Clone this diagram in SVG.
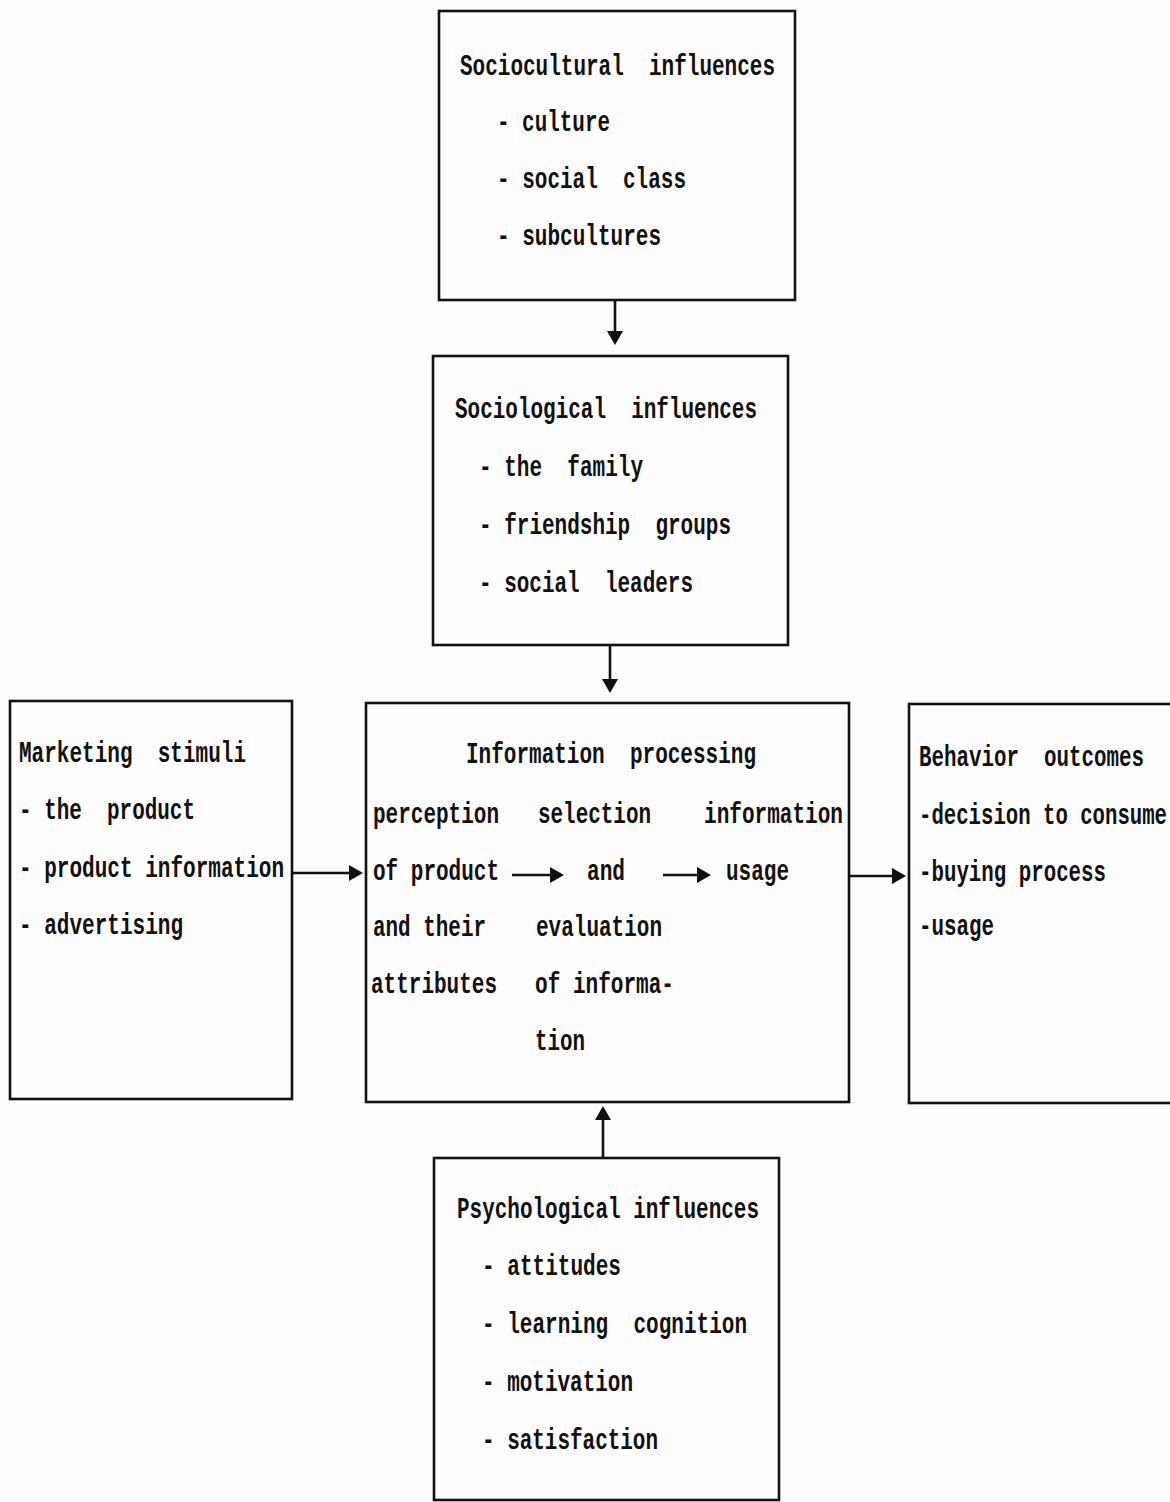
<svg xmlns="http://www.w3.org/2000/svg" width="1170" height="1502" viewBox="0 0 1170 1502">
  <style>
    .box { fill: none; stroke: #111; stroke-width: 2.6; }
    .conn { fill: none; stroke: #111; stroke-width: 2.6; marker-end: url(#head); }
    text { font-family: "Liberation Mono", "DejaVu Sans Mono", monospace; font-weight: bold; font-size: 30px; fill: #111; white-space: pre; }
  </style>
  <defs>
    <marker id="head" viewBox="0 0 14 16" refX="10" refY="8" markerWidth="14" markerHeight="16" markerUnits="userSpaceOnUse" orient="auto">
      <path d="M0,0 L14,8 L0,16 Z" fill="#111"/>
    </marker>
  </defs>
  <rect width="1170" height="1502" fill="#fdfdfd"/>

  <!-- Sociocultural influences -->
  <g id="sociocultural">
    <rect class="box" x="439" y="11" width="356" height="289"/>
    <text x="460" y="75" textLength="315" lengthAdjust="spacingAndGlyphs">Sociocultural  influences</text>
    <text x="497" y="131" textLength="113" lengthAdjust="spacingAndGlyphs">- culture</text>
    <text x="497" y="188" textLength="189" lengthAdjust="spacingAndGlyphs">- social  class</text>
    <text x="497" y="245" textLength="164" lengthAdjust="spacingAndGlyphs">- subcultures</text>
  </g>

  <!-- Sociological influences -->
  <g id="sociological">
    <rect class="box" x="433" y="356" width="355" height="289"/>
    <text x="455" y="418" textLength="302" lengthAdjust="spacingAndGlyphs">Sociological  influences</text>
    <text x="479" y="476" textLength="164" lengthAdjust="spacingAndGlyphs">- the  family</text>
    <text x="479" y="534" textLength="252" lengthAdjust="spacingAndGlyphs">- friendship  groups</text>
    <text x="479" y="592" textLength="214" lengthAdjust="spacingAndGlyphs">- social  leaders</text>
  </g>

  <!-- Marketing stimuli -->
  <g id="marketing">
    <rect class="box" x="10" y="701" width="282" height="398"/>
    <text x="19" y="762" textLength="227" lengthAdjust="spacingAndGlyphs">Marketing  stimuli</text>
    <text x="19" y="819" textLength="176" lengthAdjust="spacingAndGlyphs">- the  product</text>
    <text x="19" y="877" textLength="265" lengthAdjust="spacingAndGlyphs">- product information</text>
    <text x="19" y="934" textLength="164" lengthAdjust="spacingAndGlyphs">- advertising</text>
  </g>

  <!-- Information processing -->
  <g id="information">
    <rect class="box" x="366" y="703" width="483" height="399"/>
    <text x="466" y="763" textLength="290" lengthAdjust="spacingAndGlyphs">Information  processing</text>
    <text x="373" y="823" textLength="126" lengthAdjust="spacingAndGlyphs">perception</text>
    <text x="538" y="823" textLength="113" lengthAdjust="spacingAndGlyphs">selection</text>
    <text x="704" y="823" textLength="139" lengthAdjust="spacingAndGlyphs">information</text>
    <text x="373" y="880" textLength="126" lengthAdjust="spacingAndGlyphs">of product</text>
    <text x="587" y="880" textLength="38" lengthAdjust="spacingAndGlyphs">and</text>
    <text x="726" y="880" textLength="63" lengthAdjust="spacingAndGlyphs">usage</text>
    <text x="373" y="936" textLength="113" lengthAdjust="spacingAndGlyphs">and their</text>
    <text x="536" y="936" textLength="126" lengthAdjust="spacingAndGlyphs">evaluation</text>
    <text x="371" y="993" textLength="126" lengthAdjust="spacingAndGlyphs">attributes</text>
    <text x="535" y="993" textLength="139" lengthAdjust="spacingAndGlyphs">of informa-</text>
    <text x="535" y="1050" textLength="50" lengthAdjust="spacingAndGlyphs">tion</text>
  </g>

  <!-- Behavior outcomes -->
  <g id="behavior">
    <rect class="box" x="909" y="704" width="270" height="399"/>
    <text x="919" y="766" textLength="225" lengthAdjust="spacingAndGlyphs">Behavior  outcomes</text>
    <text x="919" y="824" textLength="248" lengthAdjust="spacingAndGlyphs">-decision to consume</text>
    <text x="919" y="881" textLength="187" lengthAdjust="spacingAndGlyphs">-buying process</text>
    <text x="919" y="935" textLength="75" lengthAdjust="spacingAndGlyphs">-usage</text>
  </g>

  <!-- Psychological influences -->
  <g id="psychological">
    <rect class="box" x="434" y="1158" width="345" height="342"/>
    <text x="457" y="1218" textLength="302" lengthAdjust="spacingAndGlyphs">Psychological influences</text>
    <text x="482" y="1275" textLength="139" lengthAdjust="spacingAndGlyphs">- attitudes</text>
    <text x="482" y="1333" textLength="265" lengthAdjust="spacingAndGlyphs">- learning  cognition</text>
    <text x="482" y="1391" textLength="151" lengthAdjust="spacingAndGlyphs">- motivation</text>
    <text x="482" y="1449" textLength="176" lengthAdjust="spacingAndGlyphs">- satisfaction</text>
  </g>

  <!-- Connectors -->
  <g id="connectors">
    <line class="conn" x1="615" y1="300" x2="615" y2="341"/>
    <line class="conn" x1="610" y1="645" x2="610" y2="689"/>
    <line class="conn" x1="603" y1="1158" x2="603" y2="1110"/>
    <line class="conn" x1="292" y1="873" x2="359" y2="873"/>
    <line class="conn" x1="849" y1="876" x2="902" y2="876"/>
    <line class="conn" x1="512" y1="875" x2="560" y2="875"/>
    <line class="conn" x1="663" y1="875" x2="707" y2="875"/>
  </g>
</svg>
